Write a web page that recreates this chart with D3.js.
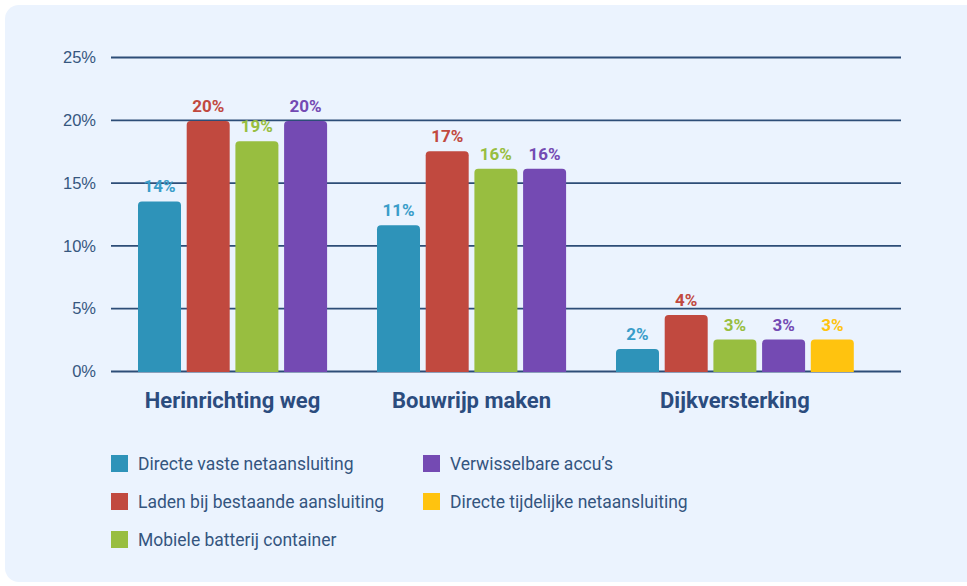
<!DOCTYPE html>
<html>
<head>
<meta charset="utf-8">
<script src="https://cdn.jsdelivr.net/npm/d3@7"></script>
<style>
  body { margin: 0; background: #fff; }
  svg { display: block; font-family: Roboto, "Noto Sans", sans-serif; }
</style>
</head>
<body>
<div id="chart"></div>
<script>
// groups and series
var groups = ["Herinrichting weg", "Bouwrijp maken", "Dijkversterking"];
var series = ["Directe vaste netaansluiting", "Laden bij bestaande aansluiting",
              "Mobiele batterij container", "Verwisselbare accu\u2019s",
              "Directe tijdelijke netaansluiting"];
var colors = ["#2E93B9", "#C1493F", "#98BE40", "#744AB3", "#FFC30F"];
var labelColors = ["#3A9DC9", "#C1493F", "#98BE40", "#744AB3", "#FFC30F"];

// bar heights (null = not present)
var herinrichting = [13.5, 19.9, 18.3, 19.9, null];
var bouwrijp = [11.6, 17.5, 16.1, 16.1, null];
var dijk = [1.75, 4.45, 2.5, 2.5, 2.5];
// printed labels
var herinrichtingLabels = ["14%", "20%", "19%", "20%", null];
var bouwrijpLabels = ["11%", "17%", "16%", "16%", null];
var dijkLabels = ["2%", "4%", "3%", "3%", "3%"];

var yTicks = [0, 5, 10, 15, 20, 25];

var values = [herinrichting, bouwrijp, dijk];
var labels = [herinrichtingLabels, bouwrijpLabels, dijkLabels];

var width = 967, height = 586;

var svg = d3.select("#chart").append("svg")
    .attr("width", width)
    .attr("height", height);

// light panel
svg.append("rect")
    .attr("x", 5).attr("y", 5)
    .attr("width", 1000).attr("height", 577)
    .attr("rx", 14)
    .style("fill", "#EBF3FE");

var y = d3.scaleLinear().domain([0, 25]).range([371, 57]);

var x0 = d3.scaleBand().domain(groups).range([138, 855]).padding(0);
var x1 = d3.scaleBand().domain(series).range([0, 237.8])
    .paddingInner(0.117).paddingOuter(0);

// grid + tick labels
var grid = svg.append("g")
    .attr("class", "grid")
    .attr("transform", "translate(901,0)")
    .call(d3.axisLeft(y).tickValues(yTicks).tickSize(790)
      .tickFormat(function(d) { return d + "%"; }).tickPadding(15));
grid.select(".domain").remove();
grid.selectAll("line")
    .style("stroke", "#2D4D77")
    .style("stroke-width", 1.8);
grid.selectAll("text")
    .style("fill", "#36577F")
    .style("font-size", "16.5px")
    .attr("dy", "0.34em");

// rounded-top bar path
function barPath(x, top, w, bottom, r) {
  r = Math.min(r, (bottom - top), w / 2);
  return "M" + x + "," + bottom +
    "V" + (top + r) +
    "Q" + x + "," + top + " " + (x + r) + "," + top +
    "H" + (x + w - r) +
    "Q" + (x + w) + "," + top + " " + (x + w) + "," + (top + r) +
    "V" + bottom + "Z";
}

groups.forEach(function(g, gi) {
  var gx = x0(g);
  var gg = svg.append("g").attr("transform", "translate(" + gx + ",0)");
  var present = [];
  values[gi].forEach(function(v, si) {
    if (v == null) return;
    present.push(si);
    var bx = x1(series[si]);
    gg.append("path")
      .attr("d", barPath(bx, y(v), x1.bandwidth(), y(0) + 1, 4))
      .style("fill", colors[si]);
    gg.append("text")
      .attr("x", bx + x1.bandwidth() / 2)
      .attr("y", y(v) - 9)
      .attr("text-anchor", "middle")
      .style("font-size", "17px")
      .style("font-weight", "bold")
      .style("fill", labelColors[si])
      .text(labels[gi][si]);
  });
  var first = x1(series[present[0]]);
  var last = x1(series[present[present.length - 1]]) + x1.bandwidth();
  gg.append("text")
    .attr("x", (first + last) / 2)
    .attr("y", 408)
    .attr("text-anchor", "middle")
    .style("font-size", "22px")
    .style("font-weight", "bold")
    .style("fill", "#2B4C7E")
    .text(g);
});

// legend, column-major
var legend = svg.append("g").attr("class", "legend");
series.forEach(function(s, i) {
  var col = i < 3 ? 0 : 1;
  var row = i < 3 ? i : i - 3;
  var lg = legend.append("g")
    .attr("transform", "translate(" + (111 + col * 312) + "," + (455 + row * 38) + ")");
  lg.append("rect")
    .attr("width", 17).attr("height", 17)
    .style("fill", colors[i]);
  lg.append("text")
    .attr("x", 27)
    .attr("y", 8.5)
    .attr("dy", "0.35em")
    .style("font-size", "17.5px")
    .style("fill", "#34557F")
    .text(s);
});
</script>
</body>
</html>
